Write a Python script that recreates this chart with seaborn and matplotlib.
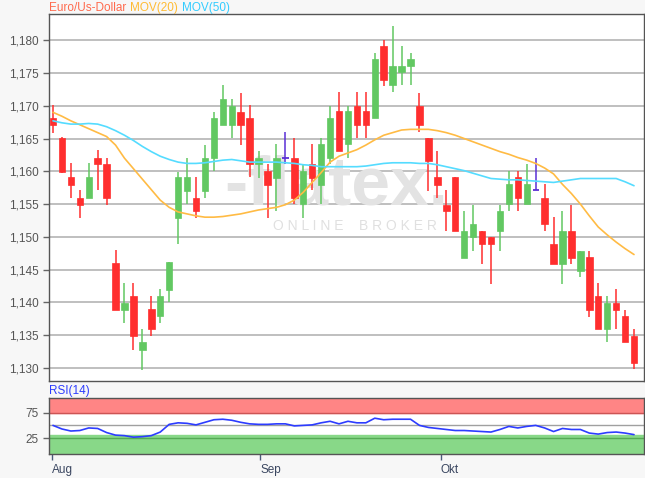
import numpy as np
import pandas as pd
import matplotlib
matplotlib.use("Agg")
import matplotlib.pyplot as plt
import seaborn as sns
from matplotlib.ticker import FuncFormatter

# daily candles, Aug -> Okt
opens = [1.1681, 1.1651, 1.1592, 1.1560, 1.1560, 1.1621, 1.1611, 1.1460, 1.1388, 1.1409,
         1.1327, 1.1390, 1.1379, 1.1419, 1.1529, 1.1570, 1.1560, 1.1570, 1.1620, 1.1670,
         1.1670, 1.1691, 1.1681, 1.1611, 1.1600, 1.1590, 1.1621, 1.1621, 1.1550, 1.1611,
         1.1579, 1.1621, 1.1692, 1.1641, 1.1699, 1.1692, 1.1681, 1.1791, 1.1731, 1.1752,
         1.1760, 1.1699, 1.1651, 1.1592, 1.1548, 1.1591, 1.1468, 1.1500, 1.1509, 1.1500,
         1.1509, 1.1550, 1.1591, 1.1550, 1.1571, 1.1560, 1.1489, 1.1459, 1.1509, 1.1448,
         1.1469, 1.1409, 1.1359, 1.1399, 1.1379, 1.1348]
highs = [1.1701, 1.1652, 1.1612, 1.1571, 1.1612, 1.1632, 1.1621, 1.1480, 1.1429, 1.1429,
         1.1360, 1.1409, 1.1420, 1.1461, 1.1599, 1.1620, 1.1591, 1.1640, 1.1691, 1.1731,
         1.1711, 1.1720, 1.1701, 1.1631, 1.1611, 1.1641, 1.1660, 1.1651, 1.1611, 1.1641,
         1.1651, 1.1699, 1.1721, 1.1699, 1.1721, 1.1721, 1.1781, 1.1800, 1.1821, 1.1791,
         1.1781, 1.1720, 1.1651, 1.1631, 1.1571, 1.1591, 1.1540, 1.1548, 1.1509, 1.1500,
         1.1548, 1.1600, 1.1600, 1.1611, 1.1621, 1.1580, 1.1530, 1.1540, 1.1548, 1.1479,
         1.1479, 1.1429, 1.1409, 1.1420, 1.1388, 1.1359]
lows = [1.1659, 1.1598, 1.1560, 1.1528, 1.1560, 1.1571, 1.1548, 1.1388, 1.1368, 1.1327,
        1.1297, 1.1348, 1.1368, 1.1400, 1.1489, 1.1550, 1.1529, 1.1560, 1.1601, 1.1670,
        1.1651, 1.1640, 1.1591, 1.1590, 1.1528, 1.1539, 1.1611, 1.1550, 1.1528, 1.1571,
        1.1550, 1.1611, 1.1631, 1.1621, 1.1651, 1.1651, 1.1681, 1.1730, 1.1721, 1.1731,
        1.1731, 1.1660, 1.1570, 1.1560, 1.1509, 1.1509, 1.1468, 1.1479, 1.1459, 1.1428,
        1.1479, 1.1540, 1.1540, 1.1550, 1.1571, 1.1509, 1.1459, 1.1428, 1.1459, 1.1438,
        1.1378, 1.1359, 1.1339, 1.1359, 1.1339, 1.1298]
closes = [1.1670, 1.1599, 1.1579, 1.1548, 1.1592, 1.1611, 1.1560, 1.1388, 1.1399, 1.1349,
          1.1340, 1.1359, 1.1409, 1.1461, 1.1591, 1.1591, 1.1540, 1.1620, 1.1681, 1.1711,
          1.1699, 1.1670, 1.1611, 1.1621, 1.1579, 1.1621, 1.1621, 1.1559, 1.1600, 1.1590,
          1.1641, 1.1681, 1.1631, 1.1692, 1.1670, 1.1670, 1.1771, 1.1740, 1.1760, 1.1760,
          1.1771, 1.1671, 1.1615, 1.1579, 1.1540, 1.1509, 1.1509, 1.1520, 1.1489, 1.1489,
          1.1540, 1.1580, 1.1560, 1.1580, 1.1571, 1.1520, 1.1459, 1.1509, 1.1468, 1.1479,
          1.1388, 1.1359, 1.1399, 1.1388, 1.1339, 1.1308]

mov20 = [1.1690, 1.1684, 1.1677, 1.1671, 1.1665, 1.1659, 1.1653, 1.1640, 1.1620, 1.1604,
         1.1588, 1.1572, 1.1556, 1.1545, 1.1538, 1.1535, 1.1532, 1.1530, 1.1530, 1.1531,
         1.1533, 1.1535, 1.1538, 1.1541, 1.1543, 1.1545, 1.1549, 1.1556, 1.1568, 1.1583,
         1.1598, 1.1614, 1.1623, 1.1628, 1.1633, 1.1640, 1.1648, 1.1655, 1.1659, 1.1663,
         1.1664, 1.1664, 1.1664, 1.1662, 1.1659, 1.1655, 1.1650, 1.1645, 1.1640, 1.1635,
         1.1630, 1.1626, 1.1621, 1.1617, 1.1612, 1.1605, 1.1596, 1.1580, 1.1566, 1.1550,
         1.1532, 1.1515, 1.1503, 1.1492, 1.1482, 1.1473]
mov50 = [1.1677, 1.1674, 1.1672, 1.1672, 1.1673, 1.1672, 1.1668, 1.1662, 1.1655, 1.1647,
         1.1638, 1.1630, 1.1623, 1.1618, 1.1614, 1.1612, 1.1612, 1.1613, 1.1615, 1.1617,
         1.1618, 1.1616, 1.1614, 1.1614, 1.1614, 1.1614, 1.1613, 1.1612, 1.1610, 1.1609,
         1.1607, 1.1607, 1.1607, 1.1607, 1.1607, 1.1608, 1.1610, 1.1612, 1.1613, 1.1613,
         1.1613, 1.1612, 1.1612, 1.1610, 1.1607, 1.1604, 1.1601, 1.1597, 1.1593, 1.1589,
         1.1588, 1.1587, 1.1587, 1.1586, 1.1585, 1.1584, 1.1583, 1.1585, 1.1587, 1.1589,
         1.1589, 1.1589, 1.1589, 1.1589, 1.1584, 1.1578]
rsi14 = [50, 43, 39, 40, 45, 44, 36, 31, 30, 27,
         28, 30, 37, 52, 55, 54, 51, 56, 61, 62,
         60, 56, 53, 52, 52, 53, 53, 49, 50, 51,
         55, 58, 53, 58, 55, 55, 64, 61, 62, 62,
         62, 50, 46, 44, 42, 40, 40, 39, 38, 37,
         42, 48, 45, 48, 50, 45, 38, 44, 42, 42,
         35, 33, 36, 37, 35, 32]

doji_days = [26, 54]
month_labels = ["Aug", "Sep", "Okt"]
month_pos = [-0.15, 23.2, 43.4]
price_ticks = [1.130, 1.135, 1.140, 1.145, 1.150, 1.155, 1.160, 1.165, 1.170, 1.175, 1.180]

RED = "#ff2e2e"
GREEN = "#62c862"
DOJI = "#5a2fd6"
ORANGE = "#ffbb44"
CYAN = "#55dcff"

sns.set_theme(style="white")
plt.rcParams["font.family"] = ["Liberation Sans", "DejaVu Sans"]

df = pd.DataFrame({"day": np.arange(len(opens)), "open": opens, "high": highs,
                   "low": lows, "close": closes, "mov20": mov20, "mov50": mov50,
                   "rsi": rsi14})

fig = plt.figure(figsize=(6.45, 4.78), dpi=100, facecolor="#f7f7f7")
ax = fig.add_axes([0.0752, 0.2029, 0.923, 0.7678])
ax_rsi = fig.add_axes([0.0752, 0.050, 0.923, 0.118], sharex=ax)

# watermark
ax.text(0.483, 0.53, "-flatex.", transform=ax.transAxes, ha="center", va="center",
        fontsize=50, fontweight="bold", color="#e3e3e3", zorder=2)
ax.text(0.515, 0.422, "O N L I N E    B R O K E R", transform=ax.transAxes,
        ha="center", va="center", fontsize=10, color="#e0e0e0", zorder=2)

# candles
up = df[df["close"] > df["open"]]
down = df[df["close"] < df["open"]]
flat = df[df["day"].isin(doji_days)]
for part, col in [(up, GREEN), (down, RED)]:
    ax.vlines(part["day"], part["low"], part["high"], color=col, lw=1.1, zorder=3)
    ax.bar(part["day"], (part["close"] - part["open"]).abs(),
           bottom=part[["open", "close"]].min(axis=1), width=0.72,
           color=col, edgecolor=col, lw=0.5, zorder=4)
ax.vlines(flat["day"], flat["low"], flat["high"], color=DOJI, lw=1.1, zorder=4)
ax.hlines(flat["close"], flat["day"] - 0.35, flat["day"] + 0.35, color=DOJI, lw=1.3, zorder=4)

sns.lineplot(data=df, x="day", y="mov20", ax=ax, color=ORANGE, lw=1.2, zorder=5)
sns.lineplot(data=df, x="day", y="mov50", ax=ax, color=CYAN, lw=1.2, zorder=5)

ax.set_xlim(-0.5, 66.1)
ax.set_ylim(1.1280, 1.1840)
ax.set_yticks(price_ticks)
ax.yaxis.set_major_formatter(FuncFormatter(lambda v, p: f"{v:.3f}".replace(".", ",")))
ax.grid(axis="y", color="#b4b4b4", lw=1.2, zorder=1)
ax.set_axisbelow(True)
ax.set_xlabel("")
ax.set_ylabel("")
ax.tick_params(axis="y", length=4, width=1, color="#666666", labelcolor="#555555",
               labelsize=8.5, left=True, pad=3)
ax.tick_params(axis="x", bottom=False, labelbottom=False)
for sp in ax.spines.values():
    sp.set_color("#555555")
    sp.set_linewidth(1)

# header
hdr = [("Euro/Us-Dollar", "#ff6a4d"), ("MOV(20)", "#ffbb33"), ("MOV(50)", "#33ccff")]
xpos = 0.0752
for txt, col in hdr:
    t = fig.text(xpos, 0.983, txt, color=col, fontsize=8.5, ha="left", va="center")
    fig.canvas.draw()
    bb = t.get_window_extent()
    xpos += (bb.width + 4) / fig.bbox.width

# RSI panel
ax_rsi.axhspan(75, 104, color="#ff8585", zorder=0)
ax_rsi.axhspan(-6, 32, color="#88d888", zorder=0)
ax_rsi.axhline(75, color="#cc5555", lw=1.0, zorder=1)
ax_rsi.axhline(25, color="#55aa55", lw=1.0, zorder=1)
ax_rsi.axhline(50, color="#a0a0a0", lw=1.0, zorder=1)
sns.lineplot(data=df, x="day", y="rsi", ax=ax_rsi, color="#2d3cff", lw=1.2, zorder=3)
ax_rsi.set_ylim(-6, 104)
ax_rsi.set_yticks([25, 75])
ax_rsi.set_xticks(month_pos)
ax_rsi.set_xticklabels(month_labels)
ax_rsi.set_xlabel("")
ax_rsi.set_ylabel("")
ax_rsi.tick_params(axis="y", length=4, width=1, color="#666666", labelcolor="#555555",
                   labelsize=8.5, left=True, pad=3)
ax_rsi.tick_params(axis="x", length=4, width=1, color="#4a5a7a", labelcolor="#3a4660",
                   labelsize=8.5, bottom=True, pad=3)
for lbl in ax_rsi.get_xticklabels():
    lbl.set_horizontalalignment("left")
for sp in ax_rsi.spines.values():
    sp.set_color("#555555")
    sp.set_linewidth(1)
fig.text(0.0752, 0.183, "RSI(14)", color="#2d3cff", fontsize=8.5, ha="left", va="center")

fig.savefig("out.png", dpi=100, facecolor=fig.get_facecolor())
